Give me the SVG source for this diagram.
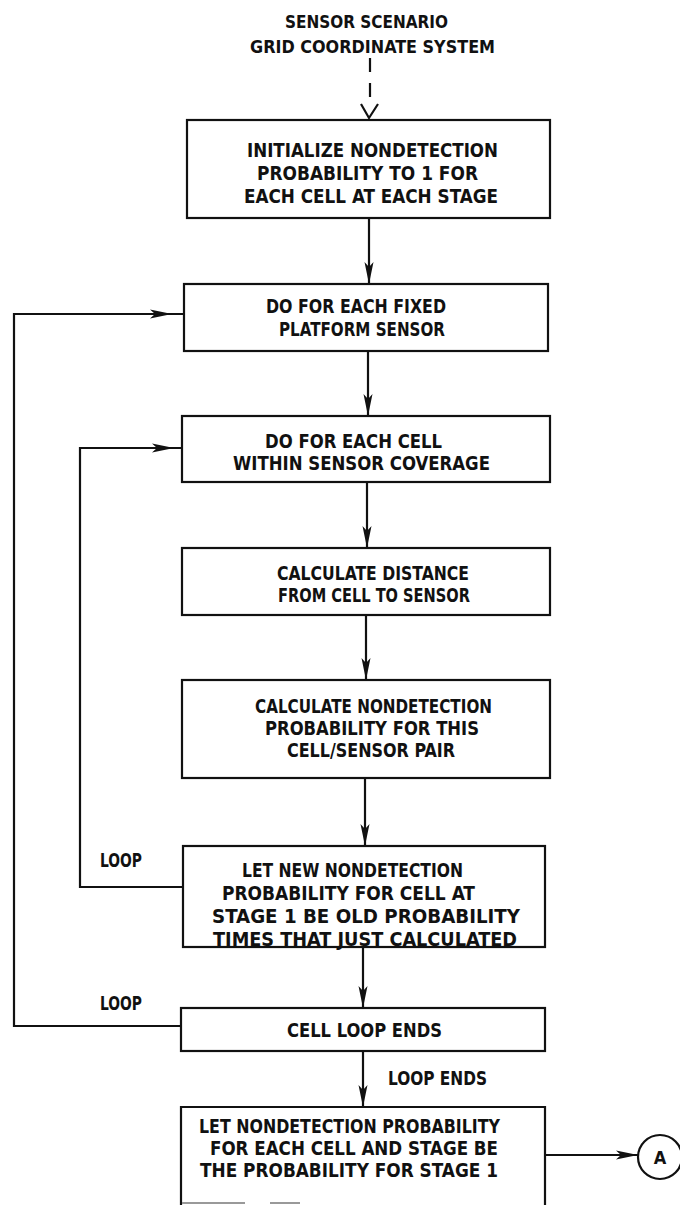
<svg xmlns="http://www.w3.org/2000/svg" width="680" height="1205" viewBox="0 0 680 1205">
<style>
  .bg { fill: #ffffff; }
  .box { fill: none; stroke: #111; stroke-width: 2.2; }
  .ln { fill: none; stroke: #111; stroke-width: 2.2; }
  .ah { fill: #111; stroke: none; }
  text { font-family: "DejaVu Sans Condensed", "DejaVu Sans", sans-serif; font-weight: bold; font-size: 19.5px; fill: #111; text-anchor: start; }
  .ttl { font-size: 18.5px; }
  .lab { font-size: 19px; }
</style>
<rect class="bg" x="0" y="0" width="680" height="1205"/>

<g id="title">
  <text class="ttl" x="285" y="28" textLength="163" lengthAdjust="spacingAndGlyphs">SENSOR SCENARIO</text>
  <text class="ttl" x="250" y="53" textLength="245" lengthAdjust="spacingAndGlyphs">GRID COORDINATE SYSTEM</text>
</g>

<g id="connectors">
  <!-- dashed input -->
  <line class="ln" x1="370" y1="58" x2="370" y2="72" stroke-width="3"/>
  <line class="ln" x1="370" y1="83" x2="370" y2="97" stroke-width="3"/>
  <polyline class="ln" points="361,104 369,118 378,104"/>
  <!-- box1 -> box2 -->
  <line class="ln" x1="369" y1="218" x2="369" y2="284"/>
  <polygon class="ah" points="369,284 364.5,262 369,267 373.5,262"/>
  <!-- box2 -> box3 -->
  <line class="ln" x1="368" y1="351" x2="368" y2="416"/>
  <polygon class="ah" points="368,416 363.5,394 368,399 372.5,394"/>
  <!-- box3 -> box4 -->
  <line class="ln" x1="367" y1="482" x2="367" y2="548"/>
  <polygon class="ah" points="367,548 362.5,526 367,531 371.5,526"/>
  <!-- box4 -> box5 -->
  <line class="ln" x1="366" y1="615" x2="366" y2="680"/>
  <polygon class="ah" points="366,680 361.5,658 366,663 370.5,658"/>
  <!-- box5 -> box6 -->
  <line class="ln" x1="365" y1="778" x2="365" y2="846"/>
  <polygon class="ah" points="365,846 360.5,824 365,829 369.5,824"/>
  <!-- box6 -> box7 -->
  <line class="ln" x1="363" y1="947" x2="363" y2="1008"/>
  <polygon class="ah" points="363,1008 358.5,986 363,991 367.5,986"/>
  <!-- box7 -> box8 -->
  <line class="ln" x1="363" y1="1051" x2="363" y2="1107"/>
  <polygon class="ah" points="363,1107 358.5,1085 363,1090 367.5,1085"/>
  <!-- outer loop -->
  <path class="ln" d="M181,1026 H14 V314 H184"/>
  <polygon class="ah" points="172,314 150,309.5 155,314 150,318.5"/>
  <!-- inner loop -->
  <path class="ln" d="M183,887 H80 V448 H182"/>
  <polygon class="ah" points="174,448 152,443.5 157,448 152,452.5"/>
  <!-- to connector A -->
  <line class="ln" x1="545" y1="1155" x2="638" y2="1155"/>
  <polygon class="ah" points="638,1155 616,1150.5 621,1155 616,1159.5"/>
</g>

<g id="box1">
  <rect class="box" x="187" y="120" width="363" height="98"/>
  <text x="247" y="157" textLength="251" lengthAdjust="spacingAndGlyphs">INITIALIZE NONDETECTION</text>
  <text x="257" y="180" textLength="221" lengthAdjust="spacingAndGlyphs">PROBABILITY TO 1 FOR</text>
  <text x="244" y="203" textLength="254" lengthAdjust="spacingAndGlyphs">EACH CELL AT EACH STAGE</text>
</g>

<g id="box2">
  <rect class="box" x="184" y="284" width="364" height="67"/>
  <text x="266" y="313" textLength="180" lengthAdjust="spacingAndGlyphs">DO FOR EACH FIXED</text>
  <text x="279" y="336" textLength="166" lengthAdjust="spacingAndGlyphs">PLATFORM SENSOR</text>
</g>

<g id="box3">
  <rect class="box" x="182" y="416" width="368" height="66"/>
  <text x="265" y="448" textLength="177" lengthAdjust="spacingAndGlyphs">DO FOR EACH CELL</text>
  <text x="233" y="470" textLength="257" lengthAdjust="spacingAndGlyphs">WITHIN SENSOR COVERAGE</text>
</g>

<g id="box4">
  <rect class="box" x="182" y="548" width="368" height="67"/>
  <text x="277" y="580" textLength="192" lengthAdjust="spacingAndGlyphs">CALCULATE DISTANCE</text>
  <text x="278" y="602" textLength="192" lengthAdjust="spacingAndGlyphs">FROM CELL TO SENSOR</text>
</g>

<g id="box5">
  <rect class="box" x="182" y="680" width="368" height="98"/>
  <text x="255" y="713" textLength="237" lengthAdjust="spacingAndGlyphs">CALCULATE NONDETECTION</text>
  <text x="265" y="735" textLength="214" lengthAdjust="spacingAndGlyphs">PROBABILITY FOR THIS</text>
  <text x="287" y="757" textLength="168" lengthAdjust="spacingAndGlyphs">CELL/SENSOR PAIR</text>
</g>

<g id="box6">
  <rect class="box" x="183" y="846" width="362" height="101"/>
  <text x="242" y="877" textLength="221" lengthAdjust="spacingAndGlyphs">LET NEW NONDETECTION</text>
  <text x="222" y="900" textLength="253" lengthAdjust="spacingAndGlyphs">PROBABILITY FOR CELL AT</text>
  <text x="212" y="923" textLength="308" lengthAdjust="spacingAndGlyphs">STAGE 1 BE OLD PROBABILITY</text>
  <text x="213" y="946" textLength="304" lengthAdjust="spacingAndGlyphs">TIMES THAT JUST CALCULATED</text>
</g>

<g id="loop-labels">
  <text class="lab" x="100" y="867" textLength="42" lengthAdjust="spacingAndGlyphs">LOOP</text>
  <text class="lab" x="100" y="1010" textLength="42" lengthAdjust="spacingAndGlyphs">LOOP</text>
  <text class="lab" x="388" y="1085" textLength="99" lengthAdjust="spacingAndGlyphs">LOOP ENDS</text>
</g>

<g id="box7">
  <rect class="box" x="181" y="1008" width="364" height="43"/>
  <text x="287" y="1037" textLength="155" lengthAdjust="spacingAndGlyphs">CELL LOOP ENDS</text>
</g>

<g id="box8">
  <path class="box" d="M181,1205 V1107 H545 V1205"/>
  <path d="M182,1203 H245 M270,1203 H300" fill="none" stroke="#999" stroke-width="2"/>
  <text x="199" y="1133" textLength="301" lengthAdjust="spacingAndGlyphs">LET NONDETECTION PROBABILITY</text>
  <text x="210" y="1155" textLength="288" lengthAdjust="spacingAndGlyphs">FOR EACH CELL AND STAGE BE</text>
  <text x="200" y="1177" textLength="298" lengthAdjust="spacingAndGlyphs">THE PROBABILITY FOR STAGE 1</text>
</g>

<g id="connectorA">
  <circle cx="660" cy="1157" r="22" fill="none" stroke="#111" stroke-width="2.2"/>
  <text x="660" y="1164" style="text-anchor: middle; font-size: 18px;">A</text>
</g>
</svg>
